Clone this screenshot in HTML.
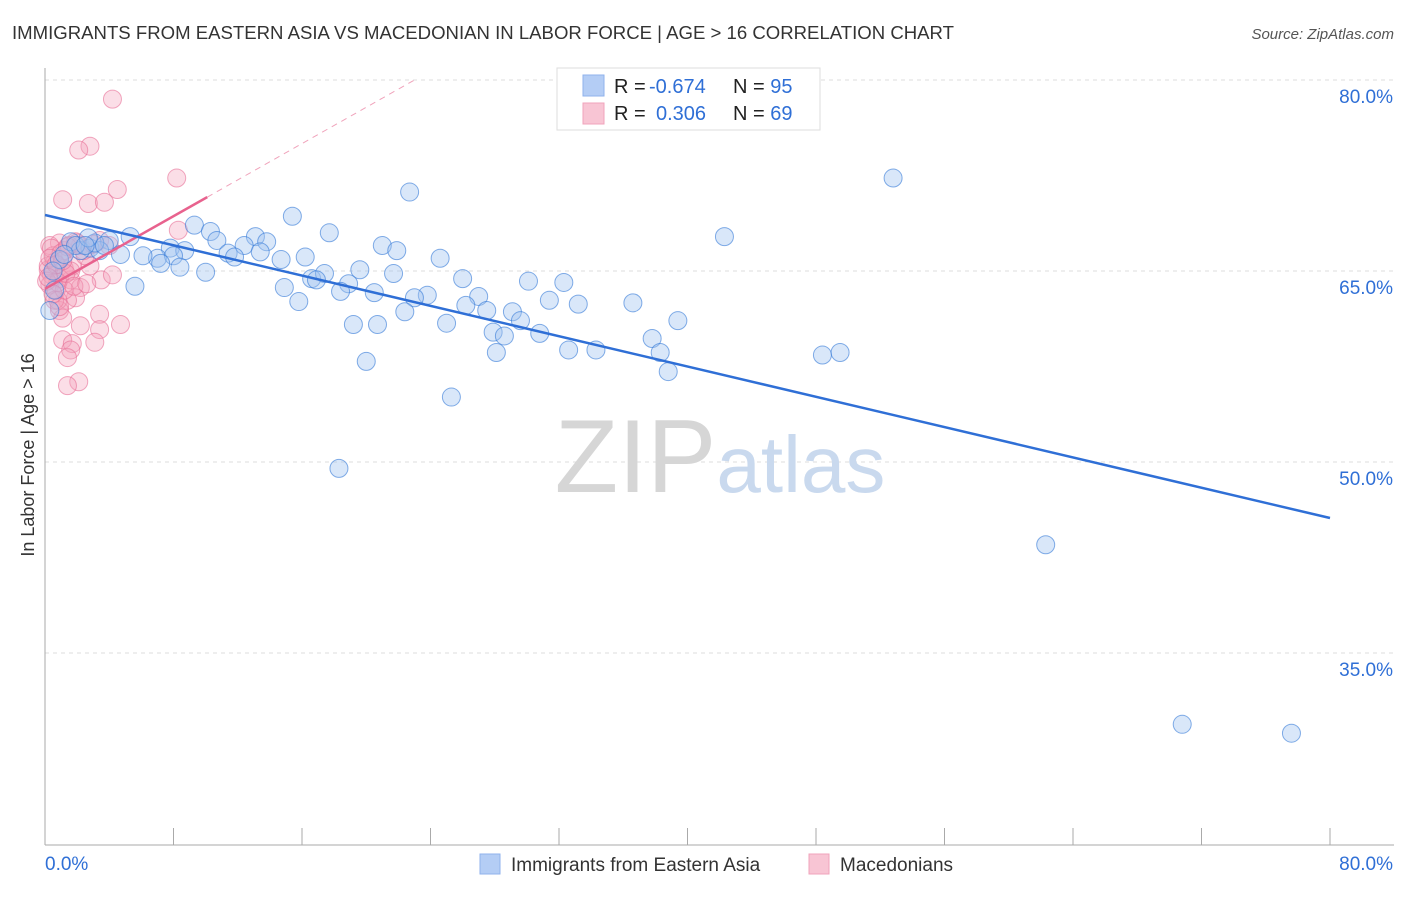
<!DOCTYPE html>
<html><head><meta charset="utf-8">
<style>
body{margin:0;background:#fff;font-family:"Liberation Sans",sans-serif;}
svg text{font-family:"Liberation Sans",sans-serif;}
</style></head>
<body>
<svg id="chart" width="1406" height="892" xmlns="http://www.w3.org/2000/svg">
<text x="12" y="39" font-size="18" fill="#333" textLength="942" lengthAdjust="spacingAndGlyphs">IMMIGRANTS FROM EASTERN ASIA VS MACEDONIAN IN LABOR FORCE | AGE &gt; 16 CORRELATION CHART</text>
<text x="1394" y="39" font-size="15" fill="#555" text-anchor="end" font-style="italic">Source: ZipAtlas.com</text>
<g id="grid"></g>
<text x="720" y="492" font-size="104" text-anchor="middle" fill="#ddd" font-family="Liberation Serif"><tspan fill="#d6d6d6">ZIP</tspan><tspan fill="#c9d9ee" font-family="Liberation Sans" font-size="80">atlas</tspan></text>
<g id="marks"></g>
<text transform="translate(34,455) rotate(-90)" font-size="18" fill="#333" text-anchor="middle">In Labor Force | Age &gt; 16</text>
<g>
<rect x="557" y="68" width="263" height="62" fill="#fff" stroke="#ddd"/>
<rect x="583" y="75" width="21" height="21" fill="#b4cdf5" stroke="#8fb2ec"/>
<rect x="583" y="103" width="21" height="21" fill="#f8c5d4" stroke="#f0a3bb"/>
<text x="614" y="93" font-size="20" fill="#222">R = <tspan fill="#2f6fd6" x="649">-0.674</tspan><tspan x="733">N = </tspan><tspan fill="#2f6fd6">95</tspan></text>
<text x="614" y="120" font-size="20" fill="#222">R = <tspan fill="#2f6fd6" x="656">0.306</tspan><tspan x="733">N = </tspan><tspan fill="#2f6fd6">69</tspan></text>
</g>
<g>
<rect x="480" y="854" width="20" height="20" fill="#b4cdf5" stroke="#8fb2ec"/>
<text x="511" y="871" font-size="19" fill="#333">Immigrants from Eastern Asia</text>
<rect x="809" y="854" width="20" height="20" fill="#f8c5d4" stroke="#f0a3bb"/>
<text x="840" y="871" font-size="19" fill="#333">Macedonians</text>
</g>
</svg>
<script>
const yTicks=[80,65,50,35];
const yTickLabels=["80.0%","65.0%","50.0%","35.0%"];
const xTickLabels=["0.0%","80.0%"];
const blueX=[52.8,22.7,15.4,9.3,17.7,42.3,10.3,5.3,13.1,13.8,4.0,21.0,21.9,10.7,7.8,8.7,12.4,7.0,6.1,8.0,11.4,11.8,13.4,4.7,2.8,16.2,14.7,24.6,19.6,21.7,8.4,7.2,10.0,26.0,16.6,17.4,30.1,32.3,5.6,14.9,16.9,18.9,15.8,20.5,18.4,23.8,23.0,27.0,26.2,27.5,31.4,33.2,36.6,22.4,29.1,29.6,19.2,20.7,25.0,27.9,30.8,28.6,39.4,37.8,38.3,28.1,32.6,34.3,48.4,49.5,20.0,38.8,25.3,18.3,62.3,70.8,77.6,3.4,1.6,2.2,0.9,0.6,0.3,1.9,3.1,2.7,1.2,2.5,3.7,0.5];
const blueY=[72.3,71.2,69.3,68.6,68.0,67.7,68.1,67.7,67.7,67.3,67.4,67.0,66.6,67.4,66.8,66.6,67.0,66.0,66.2,66.2,66.4,66.1,66.5,66.3,66.8,66.1,65.9,66.0,65.1,64.8,65.3,65.6,64.9,64.4,64.4,64.8,64.2,64.1,63.8,63.7,64.3,64.0,62.6,63.3,63.4,63.1,62.9,63.0,62.3,61.9,62.7,62.4,62.5,61.8,61.8,61.1,60.8,60.8,60.9,60.2,60.1,59.9,61.1,59.7,58.6,58.6,58.8,58.8,58.4,58.6,57.9,57.1,55.1,49.5,43.5,29.4,28.7,66.6,67.3,66.6,65.9,63.5,61.9,67.0,67.2,67.6,66.3,67.0,67.0,65.0];
const pinkX=[4.2,2.8,2.1,4.5,8.2,1.1,2.7,3.7,8.3,0.9,1.9,1.2,2.2,3.4,4.0,0.3,0.6,0.2,0.4,0.9,1.6,0.3,0.7,2.2,3.5,4.2,1.9,1.4,0.9,1.1,4.7,3.4,3.4,2.2,1.1,1.7,3.1,1.6,1.4,2.1,1.4,0.2,0.5,1.2,1.7,2.8,0.8,2.5,1.6,0.6,1.2,0.8,0.1,1.5,2.0,0.4,1.0,1.3,0.3,2.4,0.7,1.8,0.2,3.0,0.9,1.4,0.5,2.6,1.1];
const pinkY=[78.5,74.8,74.5,71.4,72.3,70.6,70.3,70.4,68.2,67.2,67.3,66.6,67.0,67.4,67.0,67.0,65.7,65.1,64.7,64.4,64.3,63.9,63.5,63.7,64.3,64.7,62.9,62.7,61.9,61.3,60.8,61.6,60.4,60.7,59.6,59.3,59.4,58.8,58.2,56.3,56.0,65.4,66.2,65.2,65.4,65.4,62.7,66.2,65.0,62.7,63.5,64.1,64.2,67.0,67.2,66.8,66.4,64.8,66.0,66.6,65.5,63.8,64.5,67.1,62.2,66.9,63.2,64.0,65.8];
const blueTrend=[69.4,45.6];
const pinkTrend=[63.6,70.8];
const pinkTrendEnd=10.1;
const NS="http://www.w3.org/2000/svg";
const X0=45,X1=1330,Y80=80,PXPER=191/15;
function sx(v){return X0+(v/80)*(X1-X0);}
function sy(v){return Y80+(80-v)*PXPER;}
function mk(tag,attrs,parent){const e=document.createElementNS(NS,tag);for(const k in attrs)e.setAttribute(k,attrs[k]);parent.appendChild(e);return e;}
const grid=document.getElementById('grid');
yTicks.forEach((t,i)=>{
  const l=mk('line',{x1:X0,x2:1394,y1:sy(t),y2:sy(t),stroke:'#ddd','stroke-dasharray':'4,4'},grid);
  
  
  const tx=mk('text',{x:1393,y:sy(t)+23,'font-size':19,fill:'#2f6fd6','text-anchor':'end'},grid);
  tx.textContent=yTickLabels[i];
  
  
});
const ax=mk('line',{x1:X0,x2:X0,y1:68,y2:845,stroke:'#aaa'},grid);


const bx=mk('line',{x1:X0,x2:1394,y1:845,y2:845,stroke:'#aaa'},grid);


for(let i=0;i<=10;i++){
  const t=mk('line',{x1:sx(i*8),x2:sx(i*8),y1:828,y2:845,stroke:'#aaa'},grid);
  
  
}
const xl0=mk('text',{x:45,y:870,'font-size':19,fill:'#2f6fd6'},grid);xl0.textContent=xTickLabels[0];


const xl1=mk('text',{x:1393,y:870,'font-size':19,fill:'#2f6fd6','text-anchor':'end'},grid);xl1.textContent=xTickLabels[1];


const marks=document.getElementById('marks');
pinkX.forEach((x,i)=>{
  const c=mk('circle',{cx:sx(x),cy:sy(pinkY[i]),r:9,fill:'rgba(244,160,186,0.35)',stroke:'rgba(232,110,150,0.6)','stroke-width':1},marks);
  
  
});
blueX.forEach((x,i)=>{
  const c=mk('circle',{cx:sx(x),cy:sy(blueY[i]),r:9,fill:'rgba(160,195,240,0.4)',stroke:'rgba(50,120,215,0.6)','stroke-width':1},marks);
  
  
});
const slope=(pinkTrend[1]-pinkTrend[0])/pinkTrendEnd;
const dashEndY=80;const dashEndX=(dashEndY-pinkTrend[0])/slope;
const pd=mk('line',{x1:sx(pinkTrendEnd),y1:sy(pinkTrend[1]),x2:sx(dashEndX),y2:sy(dashEndY),stroke:'#f0a3bb','stroke-width':1,'stroke-dasharray':'6,5'},marks);


const pl=mk('line',{x1:sx(0),y1:sy(pinkTrend[0]),x2:sx(pinkTrendEnd),y2:sy(pinkTrend[1]),stroke:'#e8628e','stroke-width':2.5},marks);


const bl=mk('line',{x1:sx(0),y1:sy(blueTrend[0]),x2:sx(80),y2:sy(blueTrend[1]),stroke:'#2f6fd6','stroke-width':2.5},marks);


</script>
</body></html>
